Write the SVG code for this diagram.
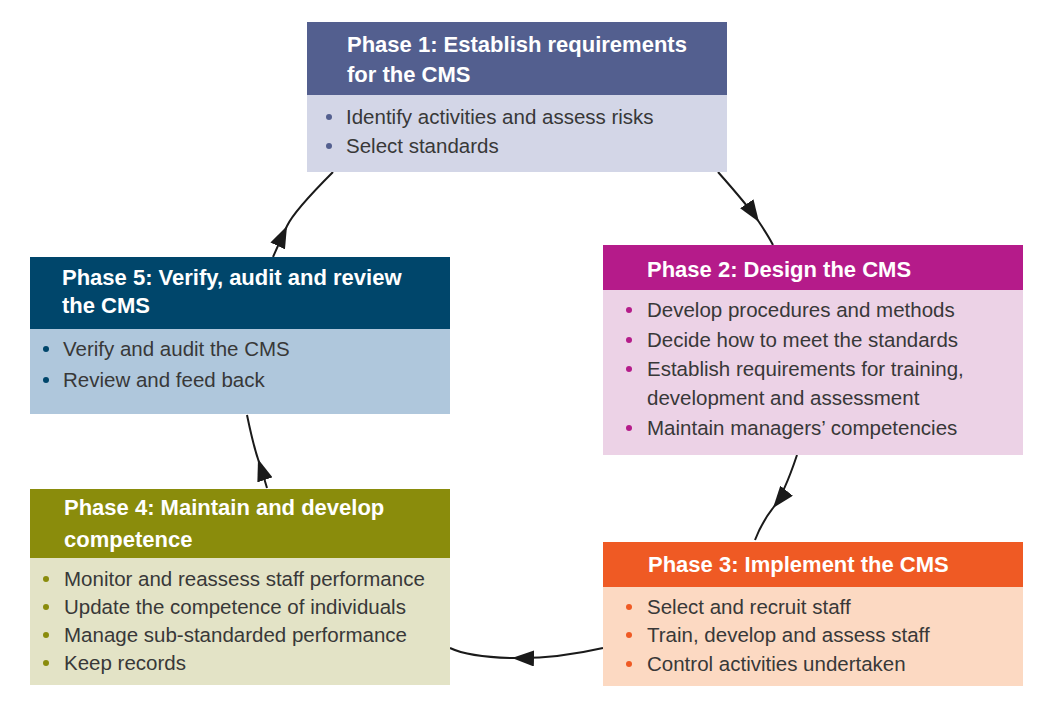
<svg xmlns="http://www.w3.org/2000/svg" width="1045" height="706" viewBox="0 0 1045 706">
<defs>
<marker id="ah" markerUnits="userSpaceOnUse" viewBox="0 0 22 16" refX="22" refY="8" markerWidth="22" markerHeight="16" orient="auto">
<path d="M0,0 L22,8 L0,16 z" fill="#1a1a1a"/>
</marker>
</defs>
<style>
.t{font-family:"Liberation Sans",Arial,sans-serif;font-weight:bold;font-size:22px;fill:#ffffff}
.b{font-family:"Liberation Sans",Arial,sans-serif;font-size:20.5px;fill:#383838}
.c{fill:none;stroke:#1a1a1a;stroke-width:2;marker-mid:url(#ah)}
</style>
<rect width="1045" height="706" fill="#ffffff"/>
<g id="connectors">
<path class="c" d="M273,257 Q280,241 287,226 T333,172"/>
<path class="c" d="M718,172 Q749,207 759,222 T773,245"/>
<path class="c" d="M797,455 Q784,494 773,508 T755,540"/>
<path class="c" d="M603,648 Q555,659 512,658 T450,648"/>
<path class="c" d="M267,488 Q263,474 258,459 T247,415"/>
</g>
<g id="phase1">
<rect x="307" y="22" width="420" height="150" fill="#d3d6e7"/>
<rect x="307" y="22" width="420" height="73" fill="#535f8f"/>
<text class="t" x="347" y="52">Phase 1: Establish requirements</text>
<text class="t" x="347" y="82">for the CMS</text>
<g fill="#535f8f"><circle cx="329" cy="117" r="3"/><circle cx="329" cy="146" r="3"/></g>
<text class="b" x="346" y="124">Identify activities and assess risks</text>
<text class="b" x="346" y="153">Select standards</text>
</g>
<g id="phase2">
<rect x="603" y="245" width="420" height="210" fill="#ecd2e6"/>
<rect x="603" y="245" width="420" height="45" fill="#b51b8a"/>
<text class="t" x="647" y="277">Phase 2: Design the CMS</text>
<g fill="#b51b8a"><circle cx="629" cy="310" r="3"/><circle cx="629" cy="340" r="3"/><circle cx="629" cy="369" r="3"/><circle cx="629" cy="428" r="3"/></g>
<text class="b" x="647" y="317">Develop procedures and methods</text>
<text class="b" x="647" y="347">Decide how to meet the standards</text>
<text class="b" x="647" y="376">Establish requirements for training,</text>
<text class="b" x="647" y="405">development and assessment</text>
<text class="b" x="647" y="435">Maintain managers’ competencies</text>
</g>
<g id="phase3">
<rect x="603" y="542" width="420" height="144" fill="#fcd9c2"/>
<rect x="603" y="542" width="420" height="45" fill="#ef5a24"/>
<text class="t" x="648" y="572">Phase 3: Implement the CMS</text>
<g fill="#ef5a24"><circle cx="629" cy="607" r="3"/><circle cx="629" cy="635" r="3"/><circle cx="629" cy="664" r="3"/></g>
<text class="b" x="647" y="614">Select and recruit staff</text>
<text class="b" x="647" y="642">Train, develop and assess staff</text>
<text class="b" x="647" y="671">Control activities undertaken</text>
</g>
<g id="phase4">
<rect x="30" y="489" width="420" height="196" fill="#e3e3c6"/>
<rect x="30" y="489" width="420" height="69" fill="#8a8c0c"/>
<text class="t" x="64" y="515">Phase 4: Maintain and develop</text>
<text class="t" x="64" y="547">competence</text>
<g fill="#8a8c0c"><circle cx="46" cy="579" r="3"/><circle cx="46" cy="607" r="3"/><circle cx="46" cy="635" r="3"/><circle cx="46" cy="663" r="3"/></g>
<text class="b" x="64" y="586">Monitor and reassess staff performance</text>
<text class="b" x="64" y="614">Update the competence of individuals</text>
<text class="b" x="64" y="642">Manage sub-standarded performance</text>
<text class="b" x="64" y="670">Keep records</text>
</g>
<g id="phase5">
<rect x="30" y="257" width="420" height="157" fill="#afc7dc"/>
<rect x="30" y="257" width="420" height="72" fill="#00466b"/>
<text class="t" x="62" y="285">Phase 5: Verify, audit and review</text>
<text class="t" x="62" y="313">the CMS</text>
<g fill="#00466b"><circle cx="46" cy="349" r="3"/><circle cx="46" cy="380" r="3"/></g>
<text class="b" x="63" y="356">Verify and audit the CMS</text>
<text class="b" x="63" y="387">Review and feed back</text>
</g>
</svg>
